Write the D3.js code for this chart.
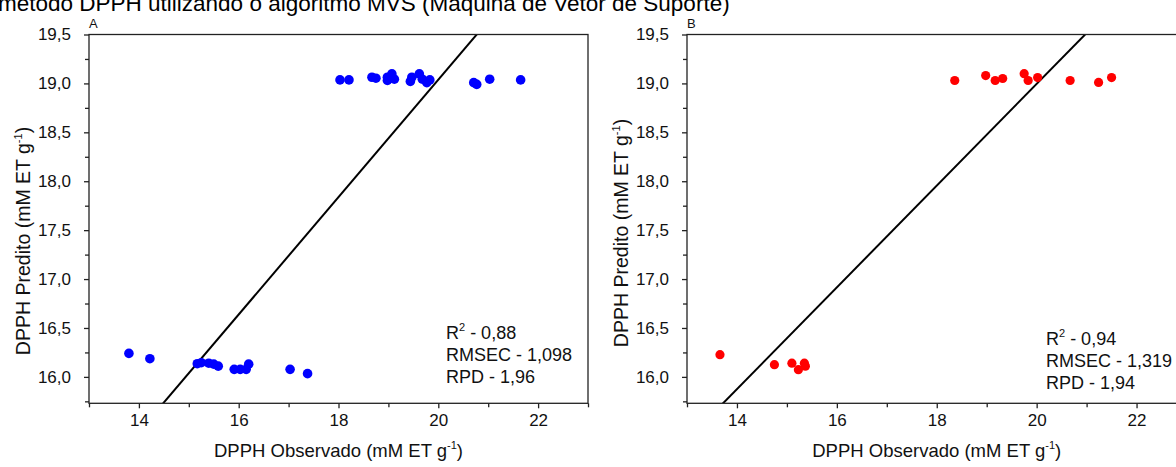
<!DOCTYPE html>
<html>
<head>
<meta charset="utf-8">
<script src="https://cdn.jsdelivr.net/npm/d3@7"></script>
<style>
  body { margin: 0; background: #fff; }
  svg { display: block; font-family: Arial, "Liberation Sans", sans-serif; }
</style>
</head>
<body>
<div id="chart"></div>
<script>
// observed vs predicted, panel A (blue)
const obsA = [18.03, 18.21, 18.67, 18.75, 18.98, 18.98, 19.07, 19.12, 19.44, 19.47, 19.62, 19.68, 19.77, 19.83, 20.71, 20.77, 21.03, 21.65,
  13.8, 14.22, 15.17, 15.25, 15.4, 15.5, 15.59, 15.91, 16.03, 16.15, 16.2, 17.03, 17.38]
const predA = [19.036, 19.036, 19.063, 19.053, 19.063, 19.03, 19.097, 19.043, 19.02, 19.063, 19.097, 19.043, 19.008, 19.036, 19.008, 18.99, 19.043, 19.036,
  16.24, 16.186, 16.135, 16.145, 16.14, 16.13, 16.11, 16.077, 16.077, 16.077, 16.13, 16.077, 16.033]
// panel B (red)
const obsB = [18.36, 18.98, 19.17, 19.32, 19.75, 19.83, 20.02, 20.67, 21.24, 21.5,
  13.66, 14.75, 15.1, 15.23, 15.35, 15.37]
const predB = [19.03, 19.08, 19.03, 19.05, 19.1, 19.03, 19.06, 19.03, 19.01, 19.06,
  16.227, 16.125, 16.14, 16.074, 16.14, 16.11]
// fitted lines (slope, intercept)
const fitA = [0.6, 7.038]
const fitB = [0.52, 8.595]
// stats
const statLabels = ['R', 'RMSEC - ', 'RPD - ']
const statsA = ['0,88', '1,098', '1,96']
const statsB = ['0,94', '1,319', '1,94']
// ticks
const xMajor = [14, 16, 18, 20, 22]
const xMinor = [13, 15, 17, 19, 21, 23]
const yMajor = [16.0, 16.5, 17.0, 17.5, 18.0, 18.5, 19.0, 19.5]
const yMinor = [15.75, 16.25, 16.75, 17.25, 17.75, 18.25, 18.75, 19.25]

const width = 1176, height = 467
const plotTop = 34.5, plotBottom = 403.3

const panels = [
  {name: 'A', obs: obsA, pred: predA, fit: fitA, stats: statsA, color: '#0000ff', r: 4.8,
    left: 89, right: 588, statX: 446, statY: 339, yTitleY: 241},
  {name: 'B', obs: obsB, pred: predB, fit: fitB, stats: statsB, color: '#ff0000', r: 4.6,
    left: 687, right: 1186.5, statX: 1046, statY: 345, yTitleY: 233}
]

const fmt = v => d3.format('.1f')(v).replace('.', ',')

const svg = d3.select('#chart').append('svg')
  .attr('width', width)
  .attr('height', height)

// title, cropped at top like the source figure
svg.append('text')
  .attr('x', -2)
  .attr('y', 11)
  .style('font-size', '22.5px')
  .style('fill', '#000')
  .text('método DPPH utilizando o algoritmo MVS (Máquina de Vetor de Suporte)')

panels.forEach((p, i) => {
  const x = d3.scaleLinear().domain([13, 23]).range([p.left, p.right])
  const y = d3.scaleLinear().domain([15.73, 19.5]).range([plotBottom, plotTop])
  const g = svg.append('g')

  const clipId = 'clip' + i
  svg.append('clipPath').attr('id', clipId)
    .append('rect')
    .attr('x', p.left).attr('y', plotTop)
    .attr('width', p.right - p.left).attr('height', plotBottom - plotTop)

  // fit line
  const lx = x.domain()
  g.append('line')
    .attr('clip-path', `url(#${clipId})`)
    .attr('x1', x(lx[0])).attr('y1', y(p.fit[0] * lx[0] + p.fit[1]))
    .attr('x2', x(lx[1])).attr('y2', y(p.fit[0] * lx[1] + p.fit[1]))
    .attr('stroke', '#000')
    .attr('stroke-width', 2)

  // points
  g.selectAll('.dot')
    .data(p.obs.map((d, j) => [d, p.pred[j]]))
    .enter().append('circle')
    .attr('cx', d => x(d[0]))
    .attr('cy', d => y(d[1]))
    .attr('r', p.r)
    .attr('fill', p.color)

  // frame
  g.append('rect')
    .attr('x', p.left).attr('y', plotTop)
    .attr('width', p.right - p.left).attr('height', plotBottom - plotTop)
    .attr('fill', 'none')
    .attr('stroke', '#222')
    .attr('stroke-width', 1.3)

  // axes
  const xa = g.append('g').attr('transform', `translate(0,${plotBottom})`)
    .call(d3.axisBottom(x).tickValues(xMajor).tickSize(5).tickPadding(6).tickFormat(d3.format('d')))
  xa.append('g').call(d3.axisBottom(x).tickValues(xMinor).tickSize(4).tickFormat(''))
  const ya = g.append('g').attr('transform', `translate(${p.left},0)`)
    .call(d3.axisLeft(y).tickValues(yMajor).tickSize(5).tickPadding(13).tickFormat(fmt))
  ya.append('g').call(d3.axisLeft(y).tickValues(yMinor).tickSize(4).tickFormat(''))
  g.selectAll('.domain').remove()
  g.selectAll('.tick line').attr('stroke', '#222').attr('stroke-width', 1.3)
  xa.selectAll('text').style('font-size', '17px').style('fill', '#111').style('font-family', 'Arial, "Liberation Sans", sans-serif')
  ya.selectAll('text').style('font-size', '17px').style('fill', '#111').style('font-family', 'Arial, "Liberation Sans", sans-serif')

  // panel letter
  g.append('text')
    .attr('x', p.left)
    .attr('y', 28)
    .style('font-size', '13px')
    .style('fill', '#111')
    .text(p.name)

  // axis titles
  const xt = g.append('text')
    .attr('x', (p.left + p.right) / 2)
    .attr('y', 457)
    .attr('text-anchor', 'middle')
    .style('font-size', '18.5px')
    .style('fill', '#111')
  xt.append('tspan').text('DPPH Observado (mM ET g')
  xt.append('tspan').attr('dy', -8).style('font-size', '11px').text('-1')
  xt.append('tspan').attr('dy', 8).text(')')

  const yt = g.append('text')
    .attr('transform', `translate(${p.left - 59},${p.yTitleY}) rotate(-90)`)
    .attr('text-anchor', 'middle')
    .style('font-size', '19.5px')
    .style('fill', '#111')
  yt.append('tspan').text('DPPH Predito (mM ET g')
  yt.append('tspan').attr('dy', -8).style('font-size', '11px').text('-1')
  yt.append('tspan').attr('dy', 8).text(')')

  // stats block
  p.stats.forEach((s, k) => {
    const t = g.append('text')
      .attr('x', p.statX)
      .attr('y', p.statY + k * 22)
      .style('font-size', '18px')
      .style('fill', '#111')
    if (k === 0) {
      t.append('tspan').text('R')
      t.append('tspan').attr('dy', -8).style('font-size', '11px').text('2')
      t.append('tspan').attr('dy', 8).text(' - ' + s)
    } else {
      t.text(statLabels[k] + s)
    }
  })
})
</script>
</body>
</html>
